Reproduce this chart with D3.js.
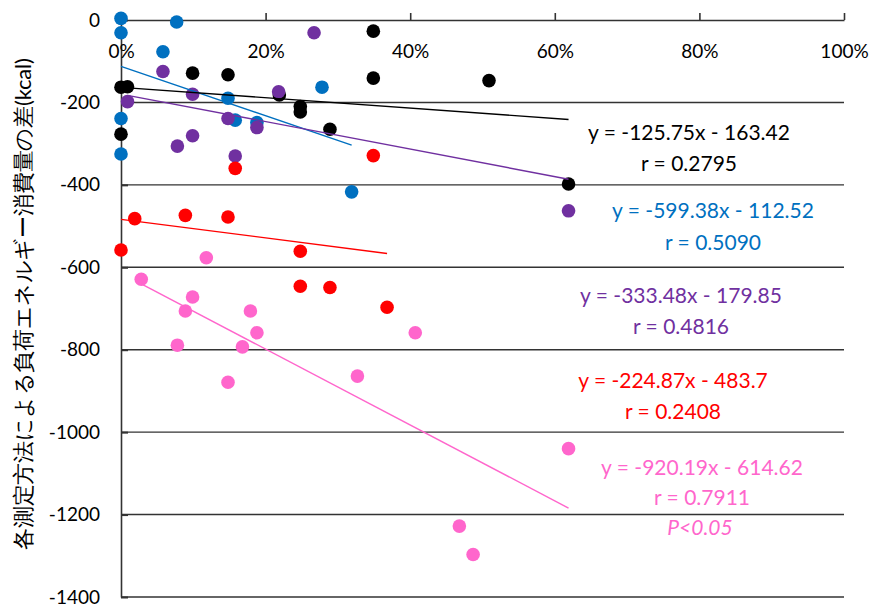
<!DOCTYPE html>
<html>
<head>
<meta charset="utf-8">
<script src="https://cdn.jsdelivr.net/npm/d3@7"></script>
<style>
  html, body { margin: 0; padding: 0; background: #fff; }
  svg { display: block; }
  text { font-family: Lato, "Noto Sans", sans-serif; }
</style>
</head>
<body>
<svg id="chart" width="874" height="611"></svg>
<script>
// Share of load (x, fraction) vs. difference in energy expenditure (y, kcal)
const blackX  = [0, 0.009, 0, 0.099, 0.148, 0.219, 0.248, 0.248, 0.289, 0.349, 0.349, 0.509, 0.619];
const blackY  = [-163, -162, -277, -129, -133, -182, -210, -223, -265, -27, -141, -147, -398];

const blueX   = [0, 0, 0.077, 0.058, 0, 0, 0.148, 0.158, 0.188, 0.278, 0.319];
const blueY   = [4, -31, -5, -77, -239, -325, -190, -243, -249, -163, -417];

const purpleX = [0.058, 0.009, 0.099, 0.099, 0.078, 0.148, 0.158, 0.188, 0.218, 0.267, 0.619];
const purpleY = [-125, -198, -180, -281, -306, -239, -330, -261, -174, -31, -463];

const redX    = [0, 0.019, 0.089, 0.148, 0.248, 0.248, 0.289, 0.368, 0.158, 0.349];
const redY    = [-558, -482, -474, -478, -561, -646, -649, -697, -360, -329];

const pinkX   = [0.118, 0.028, 0.099, 0.089, 0.179, 0.188, 0.078, 0.168, 0.148, 0.327, 0.407, 0.619, 0.468, 0.487];
const pinkY   = [-577, -629, -672, -706, -706, -759, -789, -793, -879, -864, -759, -1040, -1228, -1297];

// Fitted lines y = slope * x + intercept, with their labels
const slopes     = [-125.75, -599.38, -333.48, -224.87, -920.19];
const intercepts = [-163.42, -112.52, -179.85, -483.7, -614.62];
const eqLabels   = ["y = -125.75x - 163.42", "y = -599.38x - 112.52", "y = -333.48x - 179.85",
                    "y = -224.87x - 483.7", "y = -920.19x - 614.62"];
const rLabels    = ["r = 0.2795", "r = 0.5090", "r = 0.4816", "r = 0.2408", "r = 0.7911"];
const colors     = ["#000000", "#0070C0", "#7030A0", "#FF0000", "#FF66CC"];

const xTicks = [0, 0.2, 0.4, 0.6, 0.8, 1.0];
const yTicks = [0, -200, -400, -600, -800, -1000, -1200, -1400];
const yTitle = "各測定方法による負荷エネルギー消費量の差(kcal)";

const seriesX = [blackX, blueX, purpleX, redX, pinkX];
const seriesY = [blackY, blueY, purpleY, redY, pinkY];
const drawOrder = [1, 0, 2, 3, 4];

const svg = d3.select("#chart");
const x = d3.scaleLinear().domain([0, 1]).range([121, 844]);
const y = d3.scaleLinear().domain([0, -1400]).range([20, 597]);

// horizontal gridlines
svg.append("g").selectAll("line").data(yTicks.slice(1)).join("line")
  .attr("x1", x(0)).attr("x2", x(1))
  .attr("y1", d => y(d)).attr("y2", d => y(d))
  .attr("stroke", "#333").attr("stroke-width", 1.4);

// y axis on the left, ticks pointing inward
const yAxis = svg.append("g").attr("transform", `translate(${x(0)},0)`)
  .call(d3.axisLeft(y).tickValues(yTicks).tickFormat(d3.format("d")).tickSizeInner(-7).tickSizeOuter(0).tickPadding(21));
yAxis.select(".domain").attr("stroke", "#333").attr("stroke-width", 1.6);
yAxis.selectAll(".tick line").attr("stroke", "#333").attr("stroke-width", 2);
yAxis.selectAll(".tick text").attr("font-size", 19).attr("fill", "#000")
  .attr("font-family", "Lato, sans-serif").text(d => d === 0 ? "0" : String(d));

// x axis along the zero line, ticks pointing up, labels below
const xAxis = svg.append("g").attr("transform", `translate(0,${y(0)})`)
  .call(d3.axisTop(x).tickValues(xTicks).tickFormat(d3.format(".0%")).tickSizeInner(7).tickSizeOuter(0));
xAxis.select(".domain").attr("stroke", "#333").attr("stroke-width", 1.6);
xAxis.selectAll(".tick line").attr("stroke", "#333").attr("stroke-width", 1.6);
xAxis.selectAll(".tick text").attr("font-size", 19).attr("fill", "#000")
  .attr("font-family", "Lato, sans-serif").attr("y", 38).attr("dy", 0);

// points
drawOrder.forEach(i => {
  svg.append("g").selectAll("circle").data(seriesX[i].map((v, k) => [v, seriesY[i][k]])).join("circle")
    .attr("cx", d => x(d[0])).attr("cy", d => y(d[1])).attr("r", 6.8)
    .attr("fill", colors[i]);
});

// fitted lines over each series' x range
drawOrder.forEach(i => {
  const [x0, x1] = d3.extent(seriesX[i]);
  svg.append("line")
    .attr("x1", x(x0)).attr("y1", y(slopes[i] * x0 + intercepts[i]))
    .attr("x2", x(x1)).attr("y2", y(slopes[i] * x1 + intercepts[i]))
    .attr("stroke", colors[i]).attr("stroke-width", 1.4);
});

// equation labels
const eqPos = [[689, 140, 171], [713, 218, 250], [681, 303, 334], [673, 388, 419], [702, 475, 505]];
eqPos.forEach((p, i) => {
  svg.append("text").attr("x", p[0]).attr("y", p[1]).attr("text-anchor", "middle")
    .attr("font-size", 21).attr("fill", colors[i]).text(eqLabels[i]);
  svg.append("text").attr("x", p[0]).attr("y", p[2]).attr("text-anchor", "middle")
    .attr("font-size", 21).attr("fill", colors[i]).text(rLabels[i]);
});
svg.append("text").attr("x", 700).attr("y", 535).attr("text-anchor", "middle")
  .attr("font-size", 21).attr("font-style", "italic").attr("fill", colors[4]).text("P<0.05");

// y axis title
svg.append("text").attr("transform", "translate(22,304) rotate(-90)")
  .attr("text-anchor", "middle").attr("dominant-baseline", "central")
  .attr("font-family", "'Noto Sans CJK JP', sans-serif").attr("font-size", 22).attr("fill", "#000")
  .attr("textLength", 492).attr("lengthAdjust", "spacing")
  .text(yTitle);
</script>
</body>
</html>
